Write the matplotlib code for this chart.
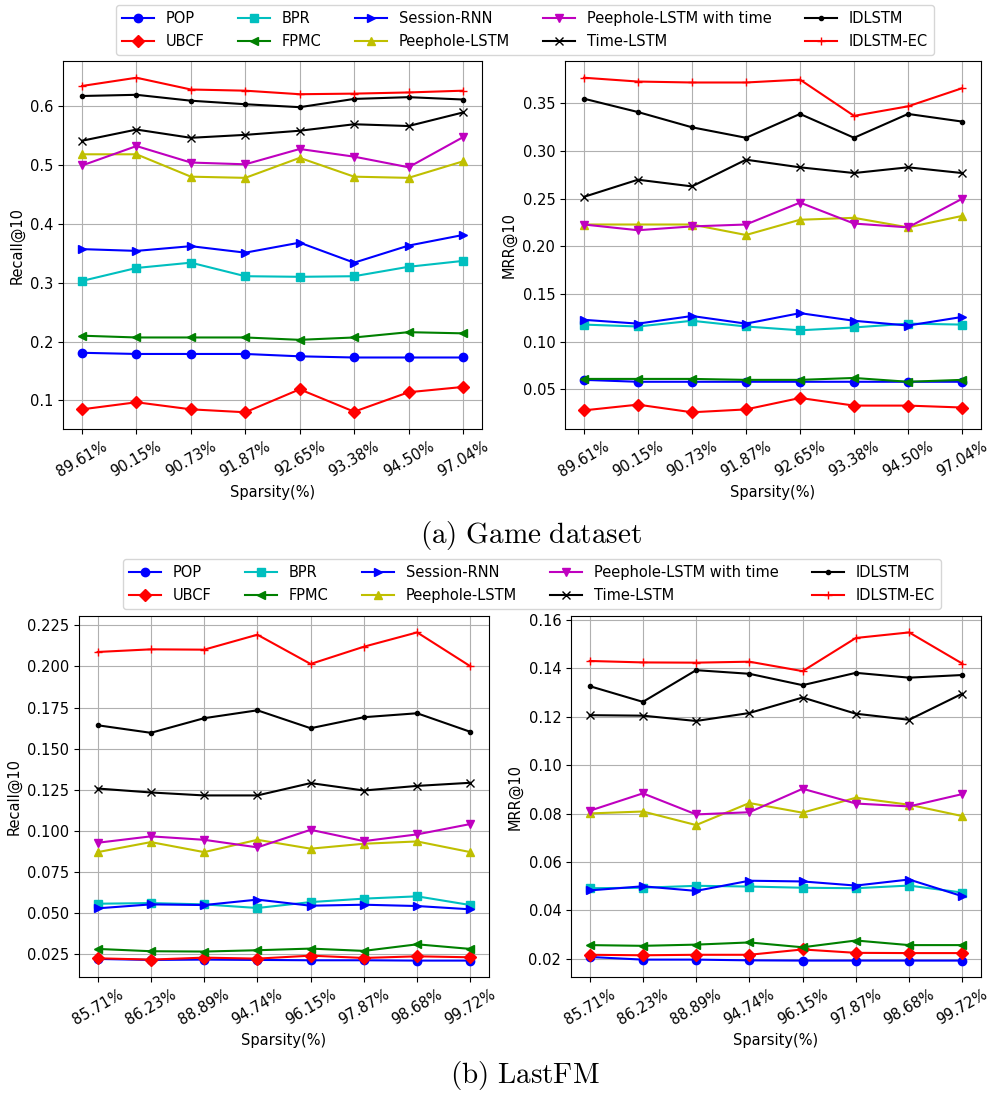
import matplotlib
matplotlib.use('Agg')
import matplotlib.pyplot as plt

plt.rcParams['mathtext.fontset'] = 'cm'

# ---- data ----
methods = ['POP', 'UBCF', 'BPR', 'FPMC', 'Session-RNN', 'Peephole-LSTM',
           'Peephole-LSTM with time', 'Time-LSTM', 'IDLSTM', 'IDLSTM-EC']
styles = ['bo-', 'rD-', 'cs-', 'g<-', 'b>-', 'y^-', 'mv-', 'kx-', 'k.-', 'r+-']

game_sparsity = ['89.61%', '90.15%', '90.73%', '91.87%', '92.65%', '93.38%', '94.50%', '97.04%']
lastfm_sparsity = ['85.71%', '86.23%', '88.89%', '94.74%', '96.15%', '97.87%', '98.68%', '99.72%']

# Game dataset, Recall@10
game_recall = {
    'POP':           [0.181, 0.179, 0.179, 0.179, 0.175, 0.173, 0.173, 0.173],
    'UBCF':          [0.085, 0.097, 0.085, 0.080, 0.119, 0.081, 0.114, 0.123],
    'BPR':           [0.303, 0.325, 0.334, 0.311, 0.310, 0.311, 0.327, 0.337],
    'FPMC':          [0.210, 0.207, 0.207, 0.207, 0.203, 0.207, 0.216, 0.214],
    'Session-RNN':   [0.357, 0.354, 0.362, 0.351, 0.368, 0.334, 0.363, 0.381],
    'Peephole-LSTM': [0.518, 0.518, 0.480, 0.478, 0.512, 0.480, 0.478, 0.506],
    'Peephole-LSTM with time': [0.499, 0.532, 0.504, 0.501, 0.527, 0.514, 0.496, 0.547],
    'Time-LSTM':     [0.541, 0.560, 0.546, 0.551, 0.558, 0.569, 0.566, 0.589],
    'IDLSTM':        [0.617, 0.619, 0.609, 0.603, 0.598, 0.612, 0.615, 0.611],
    'IDLSTM-EC':     [0.634, 0.648, 0.628, 0.626, 0.620, 0.621, 0.623, 0.626],
}

# Game dataset, MRR@10
game_mrr = {
    'POP':           [0.060, 0.058, 0.058, 0.058, 0.058, 0.058, 0.058, 0.058],
    'UBCF':          [0.028, 0.034, 0.026, 0.029, 0.041, 0.033, 0.033, 0.031],
    'BPR':           [0.118, 0.116, 0.122, 0.116, 0.112, 0.115, 0.119, 0.118],
    'FPMC':          [0.061, 0.061, 0.061, 0.060, 0.060, 0.062, 0.058, 0.060],
    'Session-RNN':   [0.123, 0.119, 0.127, 0.119, 0.130, 0.122, 0.117, 0.126],
    'Peephole-LSTM': [0.223, 0.223, 0.223, 0.212, 0.228, 0.230, 0.220, 0.232],
    'Peephole-LSTM with time': [0.223, 0.217, 0.221, 0.223, 0.246, 0.224, 0.220, 0.250],
    'Time-LSTM':     [0.252, 0.270, 0.263, 0.291, 0.283, 0.277, 0.283, 0.277],
    'IDLSTM':        [0.355, 0.341, 0.325, 0.314, 0.339, 0.314, 0.339, 0.331],
    'IDLSTM-EC':     [0.377, 0.373, 0.372, 0.372, 0.375, 0.337, 0.347, 0.366],
}

# LastFM, Recall@10
lastfm_recall = {
    'POP':           [0.0220, 0.0214, 0.0216, 0.0214, 0.0212, 0.0212, 0.0210, 0.0210],
    'UBCF':          [0.0224, 0.0216, 0.0228, 0.0222, 0.0240, 0.0226, 0.0236, 0.0230],
    'BPR':           [0.0556, 0.0560, 0.0552, 0.0530, 0.0566, 0.0587, 0.0601, 0.0548],
    'FPMC':          [0.0281, 0.0267, 0.0265, 0.0273, 0.0283, 0.0269, 0.0309, 0.0281],
    'Session-RNN':   [0.0528, 0.0552, 0.0548, 0.0581, 0.0544, 0.0550, 0.0542, 0.0522],
    'Peephole-LSTM': [0.0870, 0.0931, 0.0870, 0.0945, 0.0891, 0.0921, 0.0935, 0.0870],
    'Peephole-LSTM with time': [0.0927, 0.0966, 0.0945, 0.0899, 0.1006, 0.0937, 0.0978, 0.1041],
    'Time-LSTM':     [0.1257, 0.1233, 0.1215, 0.1215, 0.1290, 0.1245, 0.1273, 0.1292],
    'IDLSTM':        [0.1642, 0.1596, 0.1685, 0.1733, 0.1624, 0.1691, 0.1715, 0.1602],
    'IDLSTM-EC':     [0.2088, 0.2104, 0.2102, 0.2193, 0.2015, 0.2120, 0.2207, 0.2001],
}

# LastFM, MRR@10
lastfm_mrr = {
    'POP':           [0.0208, 0.0197, 0.0197, 0.0194, 0.0193, 0.0193, 0.0193, 0.0193],
    'UBCF':          [0.0217, 0.0215, 0.0217, 0.0217, 0.0239, 0.0225, 0.0224, 0.0224],
    'BPR':           [0.0492, 0.0494, 0.0502, 0.0499, 0.0494, 0.0492, 0.0503, 0.0474],
    'FPMC':          [0.0257, 0.0254, 0.0259, 0.0268, 0.0248, 0.0276, 0.0257, 0.0257],
    'Session-RNN':   [0.0483, 0.0500, 0.0481, 0.0523, 0.0520, 0.0503, 0.0528, 0.0459],
    'Peephole-LSTM': [0.0801, 0.0809, 0.0753, 0.0844, 0.0804, 0.0866, 0.0837, 0.0790],
    'Peephole-LSTM with time': [0.0812, 0.0884, 0.0797, 0.0806, 0.0903, 0.0842, 0.0830, 0.0881],
    'Time-LSTM':     [0.1207, 0.1205, 0.1183, 0.1216, 0.1280, 0.1213, 0.1188, 0.1296],
    'IDLSTM':        [0.1327, 0.1262, 0.1393, 0.1378, 0.1331, 0.1382, 0.1362, 0.1373],
    'IDLSTM-EC':     [0.1431, 0.1425, 0.1424, 0.1428, 0.1389, 0.1526, 0.1549, 0.1420],
}


def draw(ax, data, labels, ylabel):
    x = range(len(labels))
    for m, st in zip(methods, styles):
        ax.plot(x, data[m], st, label=m)
    ax.set_xticks(list(x))
    ax.set_xticklabels(labels, rotation=30, fontsize=10.5)
    ax.tick_params(axis='y', labelsize=10.5)
    ax.set_xlabel('Sparsity(%)', fontsize=10.5)
    ax.set_ylabel(ylabel, fontsize=10.5)
    ax.grid(True)


fig = plt.figure(figsize=(10.04, 10.93), dpi=100)
W, H = 1004.0, 1093.0

def box(l, r, t, b):
    return [l / W, 1 - b / H, (r - l) / W, (b - t) / H]

ax1 = fig.add_axes(box(63, 482, 61, 429))
ax2 = fig.add_axes(box(565, 981, 61, 429))
ax3 = fig.add_axes(box(79, 489, 616, 977))
ax4 = fig.add_axes(box(571, 981, 616, 977))

draw(ax1, game_recall, game_sparsity, 'Recall@10')
draw(ax2, game_mrr, game_sparsity, 'MRR@10')
draw(ax3, lastfm_recall, lastfm_sparsity, 'Recall@10')
draw(ax4, lastfm_mrr, lastfm_sparsity, 'MRR@10')

handles, lbls = ax1.get_legend_handles_labels()
leg_kw = dict(loc='center', ncol=5, fontsize=10.5, columnspacing=2.3,
              handlelength=2.2, labelspacing=0.55)
fig.legend(handles, lbls, bbox_to_anchor=(525 / W, 1 - 30 / H), **leg_kw)
fig.legend(handles, lbls, bbox_to_anchor=(532 / W, 1 - 584 / H), **leg_kw)

fig.text(531 / W, 1 - 535 / H, r'$\mathrm{(a)\ Game\ dataset}$', ha='center', va='center', fontsize=21)
fig.text(525 / W, 1 - 1076 / H, r'$\mathrm{(b)\ LastFM}$', ha='center', va='center', fontsize=21)

fig.savefig('out.png', dpi=100)
